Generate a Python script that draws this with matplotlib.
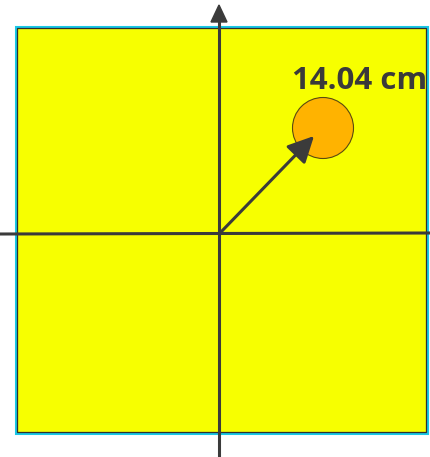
import matplotlib
matplotlib.use("Agg")
import matplotlib.pyplot as plt
from matplotlib.patches import Rectangle, Circle, FancyArrowPatch, Polygon

# --- data (pixel-space layout of the diagram) ---
label_value = [14.04]
label_unit = ["cm"]
square_x = [16, 427]
square_y = [27, 433]
origin = [220, 234]
circle_center = [323, 128]
circle_radius = [30.5]
arrow_tip = [314, 136]

W, H = 431, 457
fig = plt.figure(figsize=(W / 100, H / 100), dpi=100)
ax = fig.add_axes([0, 0, 1, 1])
ax.set_xlim(0, W)
ax.set_ylim(H, 0)
ax.axis("off")
fig.patch.set_facecolor("white")

dark = "#3b3b3b"

# square: cyan outer edge, dark inner edge, yellow fill
ax.add_patch(Rectangle((square_x[0], square_y[0]), square_x[1] - square_x[0],
                       square_y[1] - square_y[0], facecolor="#f7ff00",
                       edgecolor="#19c8e6", lw=2.2, zorder=1))
ax.add_patch(Rectangle((square_x[0] + 1, square_y[0] + 1), square_x[1] - square_x[0] - 2,
                       square_y[1] - square_y[0] - 2, facecolor="none",
                       edgecolor="#303030", lw=0.9, zorder=2))

# axes lines
ax.plot([0, W], [origin[1], origin[1] - 1], color=dark, lw=2.2, zorder=3)
ax.plot([origin[0] - 1, origin[0] - 1], [H, 20], color=dark, lw=2.2, zorder=3)
ax.add_patch(Polygon([[origin[0] - 1, 5], [origin[0] - 9, 22], [origin[0] + 7, 22]],
                     closed=True, color=dark, zorder=3))

# circle
ax.add_patch(Circle((circle_center[0], circle_center[1]), circle_radius[0],
                    facecolor="#ffb300", edgecolor="#5a4a10", lw=0.8, zorder=4))

# radius arrow
ax.add_patch(FancyArrowPatch((origin[0], origin[1] - 1), (arrow_tip[0], arrow_tip[1]),
                             arrowstyle="-|>,head_length=16,head_width=8",
                             mutation_scale=1, color=dark, lw=2.2,
                             shrinkA=0, shrinkB=0, zorder=5))

ax.text(292, 89, f"{label_value[0]:.2f} {label_unit[0]}", fontsize=22.5,
        fontweight="bold", family=["Open Sans", "DejaVu Sans"], color="#3a3a3a",
        ha="left", va="baseline", zorder=6)

fig.savefig("out.png", dpi=100)
